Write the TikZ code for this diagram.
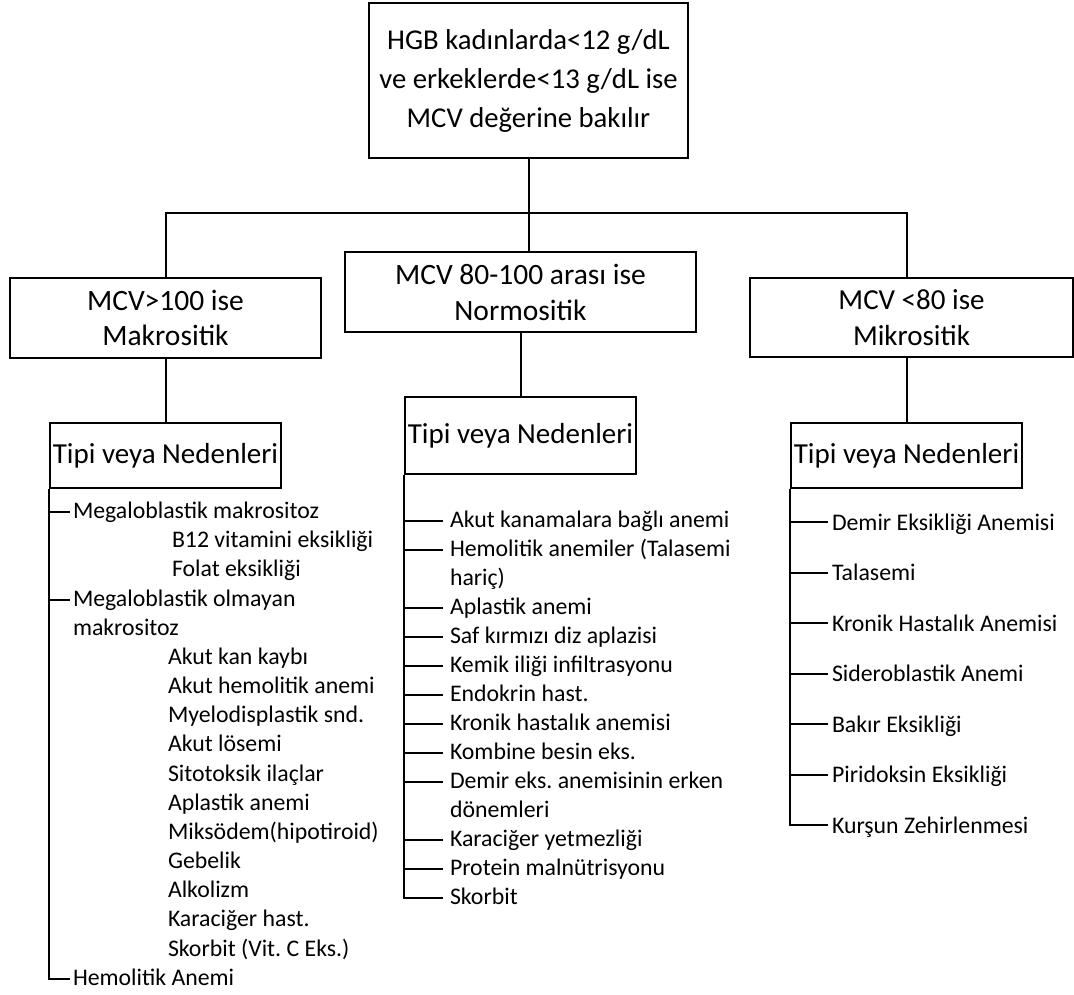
\documentclass[tikz,border=0pt]{standalone}
\usepackage{fontspec}
\setmainfont{Carlito}
\frenchspacing
\begin{document}
\begin{tikzpicture}[x=1pt, y=-1pt, line width=2pt,
  box/.style={draw, inner sep=0pt, align=center},
  hdr/.style={draw, inner sep=0pt, minimum width=231pt,
    font=\fontsize{29}{34}\selectfont},
  item/.style={anchor=base west, inner ysep=0pt, text height=13pt, text depth=0pt,
    font=\fontsize{23.8}{28}\selectfont},
  litem/.style={item, inner xsep=2pt},
  mitem/.style={item, inner xsep=6pt},
  ritem/.style={item, inner xsep=3pt, text height=16pt},
  sub/.style={item, inner xsep=0pt}]
\useasboundingbox (0,0) rectangle (1074,994);

% top level
\node[box, minimum width=319pt, minimum height=155pt, font=\fontsize{28.7}{39}\selectfont]
  (top) at (528.5,80.5) {HGB kadınlarda<12 g/dL\\ve erkeklerde<13 g/dL ise\\MCV değerine bakılır};

% MCV classes
\node[box, minimum width=311pt, minimum height=80pt, font=\fontsize{29.5}{35}\selectfont]
  (lbox) at (165.5,318) {MCV>100 ise\\Makrositik};
\node[box, minimum width=351pt, minimum height=80pt, font=\fontsize{29.5}{36}\selectfont]
  (mbox) at (520.5,292) {MCV 80-100 arası ise\\Normositik};
\node[box, minimum width=323pt, minimum height=79pt, font=\fontsize{29}{36}\selectfont]
  (rbox) at (911.5,317.5) {MCV <80 ise\\Mikrositik};

% cause headers
\node[hdr, minimum height=65pt] (ltipi) at (165.5,455.5) {Tipi veya Nedenleri};
\node[hdr, minimum height=77pt] (mtipi) at (520.5,435.5) {Tipi veya Nedenleri};
\node[hdr, minimum height=65pt] (rtipi) at (906.5,455.5) {Tipi veya Nedenleri};

% tree connectors
\coordinate (bus) at (0,213);
\coordinate (rj) at (907,213);
\draw (top.south) -- (mbox.north -| top.south);
\draw (lbox.north) -- (lbox.north |- bus) -- (rj) -- (rj |- rbox.north);
\draw (lbox.south) -- (ltipi.north);
\draw (mbox.south) -- (mtipi.north);
\draw (rj |- rbox.south) -- (rj |- rtipi.north);

% macrocytic causes
\node[litem] (l1) at (70,518) {Megaloblastik makrositoz};
\node[sub] (l2) at (171,547) {B12 vitamini eksikliği};
\node[sub] (l3) at (171,576) {Folat eksikliği};
\node[litem] (l4) at (70,606) {Megaloblastik olmayan};
\node[sub] (l5) at (72,635) {makrositoz};
\node[sub] (l6) at (167,664) {Akut kan kaybı};
\node[sub] (l7) at (167,693) {Akut hemolitik anemi};
\node[sub] (l8) at (167,722) {Myelodisplastik snd.};
\node[sub] (l9) at (167,751) {Akut lösemi};
\node[sub] (l10) at (167,781) {Sitotoksik ilaçlar};
\node[sub] (l11) at (167,810) {Aplastik anemi};
\node[sub] (l12) at (167,839) {Miksödem(hipotiroid)};
\node[sub] (l13) at (167,868) {Gebelik};
\node[sub] (l14) at (167,897) {Alkolizm};
\node[sub] (l15) at (167,926) {Karaciğer hast.};
\node[sub] (l16) at (167,956) {Skorbit (Vit. C Eks.)};
\node[litem] (l17) at (70,985) {Hemolitik Anemi};
\draw (ltipi.south west) -- (ltipi.south west |- l17.west) -- (l17.west);
\foreach \n in {l1,l4} \draw (\n.west -| ltipi.west) -- (\n.west);

% normocytic causes
\node[mitem] (m1) at (443,527) {Akut kanamalara bağlı anemi};
\node[mitem] (m2) at (443,556) {Hemolitik anemiler (Talasemi};
\node[sub] (m2b) at (449,585) {hariç)};
\node[mitem] (m3) at (443,614) {Aplastik anemi};
\node[mitem] (m4) at (443,643) {Saf kırmızı diz aplazisi};
\node[mitem] (m5) at (443,672) {Kemik iliği infiltrasyonu};
\node[mitem] (m6) at (443,701) {Endokrin hast.};
\node[mitem] (m7) at (443,730) {Kronik hastalık anemisi};
\node[mitem] (m8) at (443,759) {Kombine besin eks.};
\node[mitem] (m9) at (443,788) {Demir eks. anemisinin erken};
\node[sub] (m9b) at (449,817) {dönemleri};
\node[mitem] (m10) at (443,846) {Karaciğer yetmezliği};
\node[mitem] (m11) at (443,875) {Protein malnütrisyonu};
\node[mitem] (m12) at (443,904) {Skorbit};
\draw (mtipi.south west) -- (mtipi.south west |- m12.west) -- (m12.west);
\foreach \n in {m1,m2,m3,m4,m5,m6,m7,m8,m9,m10,m11} \draw (\n.west -| mtipi.west) -- (\n.west);

% microcytic causes
\node[ritem] (r1) at (828,530) {Demir Eksikliği Anemisi};
\node[ritem] (r2) at (828,580.5) {Talasemi};
\node[ritem] (r3) at (828,631) {Kronik Hastalık Anemisi};
\node[ritem] (r4) at (828,681.5) {Sideroblastik Anemi};
\node[ritem] (r5) at (828,732) {Bakır Eksikliği};
\node[ritem] (r6) at (828,782.5) {Piridoksin Eksikliği};
\node[ritem] (r7) at (828,833) {Kurşun Zehirlenmesi};
\draw (rtipi.south west) -- (rtipi.south west |- r7.west) -- (r7.west);
\foreach \n in {r1,r2,r3,r4,r5,r6} \draw (\n.west -| rtipi.west) -- (\n.west);
\end{tikzpicture}
\end{document}
